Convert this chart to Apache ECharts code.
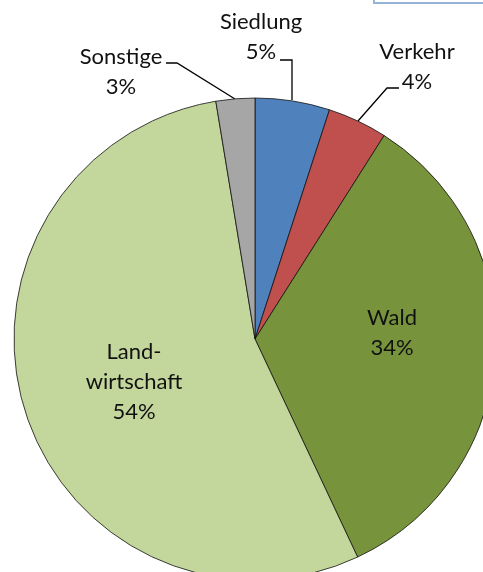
<!DOCTYPE html>
<html>
<head>
<meta charset="utf-8">
<script src="https://cdn.jsdelivr.net/npm/echarts@6/dist/echarts.min.js"></script>
<style>
  html, body { margin: 0; padding: 0; background: #fff; }
  #chart { width: 483px; height: 572px; }
</style>
</head>
<body>
<div id="chart"></div>
<script>
const categories = ['Siedlung', 'Verkehr', 'Wald', 'Landwirtschaft', 'Sonstige']
const labelTexts = ['Siedlung', 'Verkehr', 'Wald', 'Land-\nwirtschaft', 'Sonstige']
const shares = [5.0, 4.0, 34.0, 54.4, 2.6]
const colors = ['#4F81BD', '#C0504D', '#77933C', '#C3D69B', '#A6A6A6']

// label anchor + leader line for each slice (Excel-style manual placement)
const labelSpots = [
  { x: 261, y: 37, line: [[292, 100], [292, 60], [280, 60]] },
  { x: 417, y: 67, line: [[358, 121], [387, 88], [399, 88]] },
  { x: 392, y: 333, line: null },
  { x: 134, y: 382, line: null },
  { x: 121, y: 72, line: [[235, 99], [177, 63], [166, 63]] },
]

const chart = echarts.init(document.getElementById('chart'))

const option = {
  backgroundColor: '#fff',
  animation: false,
  graphic: [{
    type: 'rect',
    shape: { x: 374, y: -10, width: 130, height: 13 },
    style: { fill: '#fff', stroke: '#95B3D7', lineWidth: 2 },
  }],
  series: [{
    type: 'pie',
    center: [255, 339],
    radius: 241,
    startAngle: 90,
    clockwise: true,
    data: categories.map((name, i) => ({
      name,
      value: shares[i],
      itemStyle: { color: colors[i] },
      label: { position: labelSpots[i].line ? 'outside' : 'inside' },
      labelLine: { show: !!labelSpots[i].line },
    })),
    itemStyle: { borderColor: '#111', borderWidth: 0.8 },
    label: {
      show: true,
      formatter: (p) => labelTexts[p.dataIndex] + '\n' + Math.round(p.value) + '%',
      fontFamily: 'Lato',
      fontSize: 22,
      lineHeight: 30,
      color: '#111',
      align: 'center',
      overflow: 'none',
    },
    labelLine: {
      lineStyle: { color: '#000', width: 1.3 },
    },
    labelLayout: (p) => {
      const s = labelSpots[p.dataIndex]
      const out = { x: s.x, y: s.y, align: 'center', verticalAlign: 'middle' }
      if (s.line) out.labelLinePoints = s.line
      return out
    },
  }],
}

chart.setOption(option)
</script>
</body>
</html>
